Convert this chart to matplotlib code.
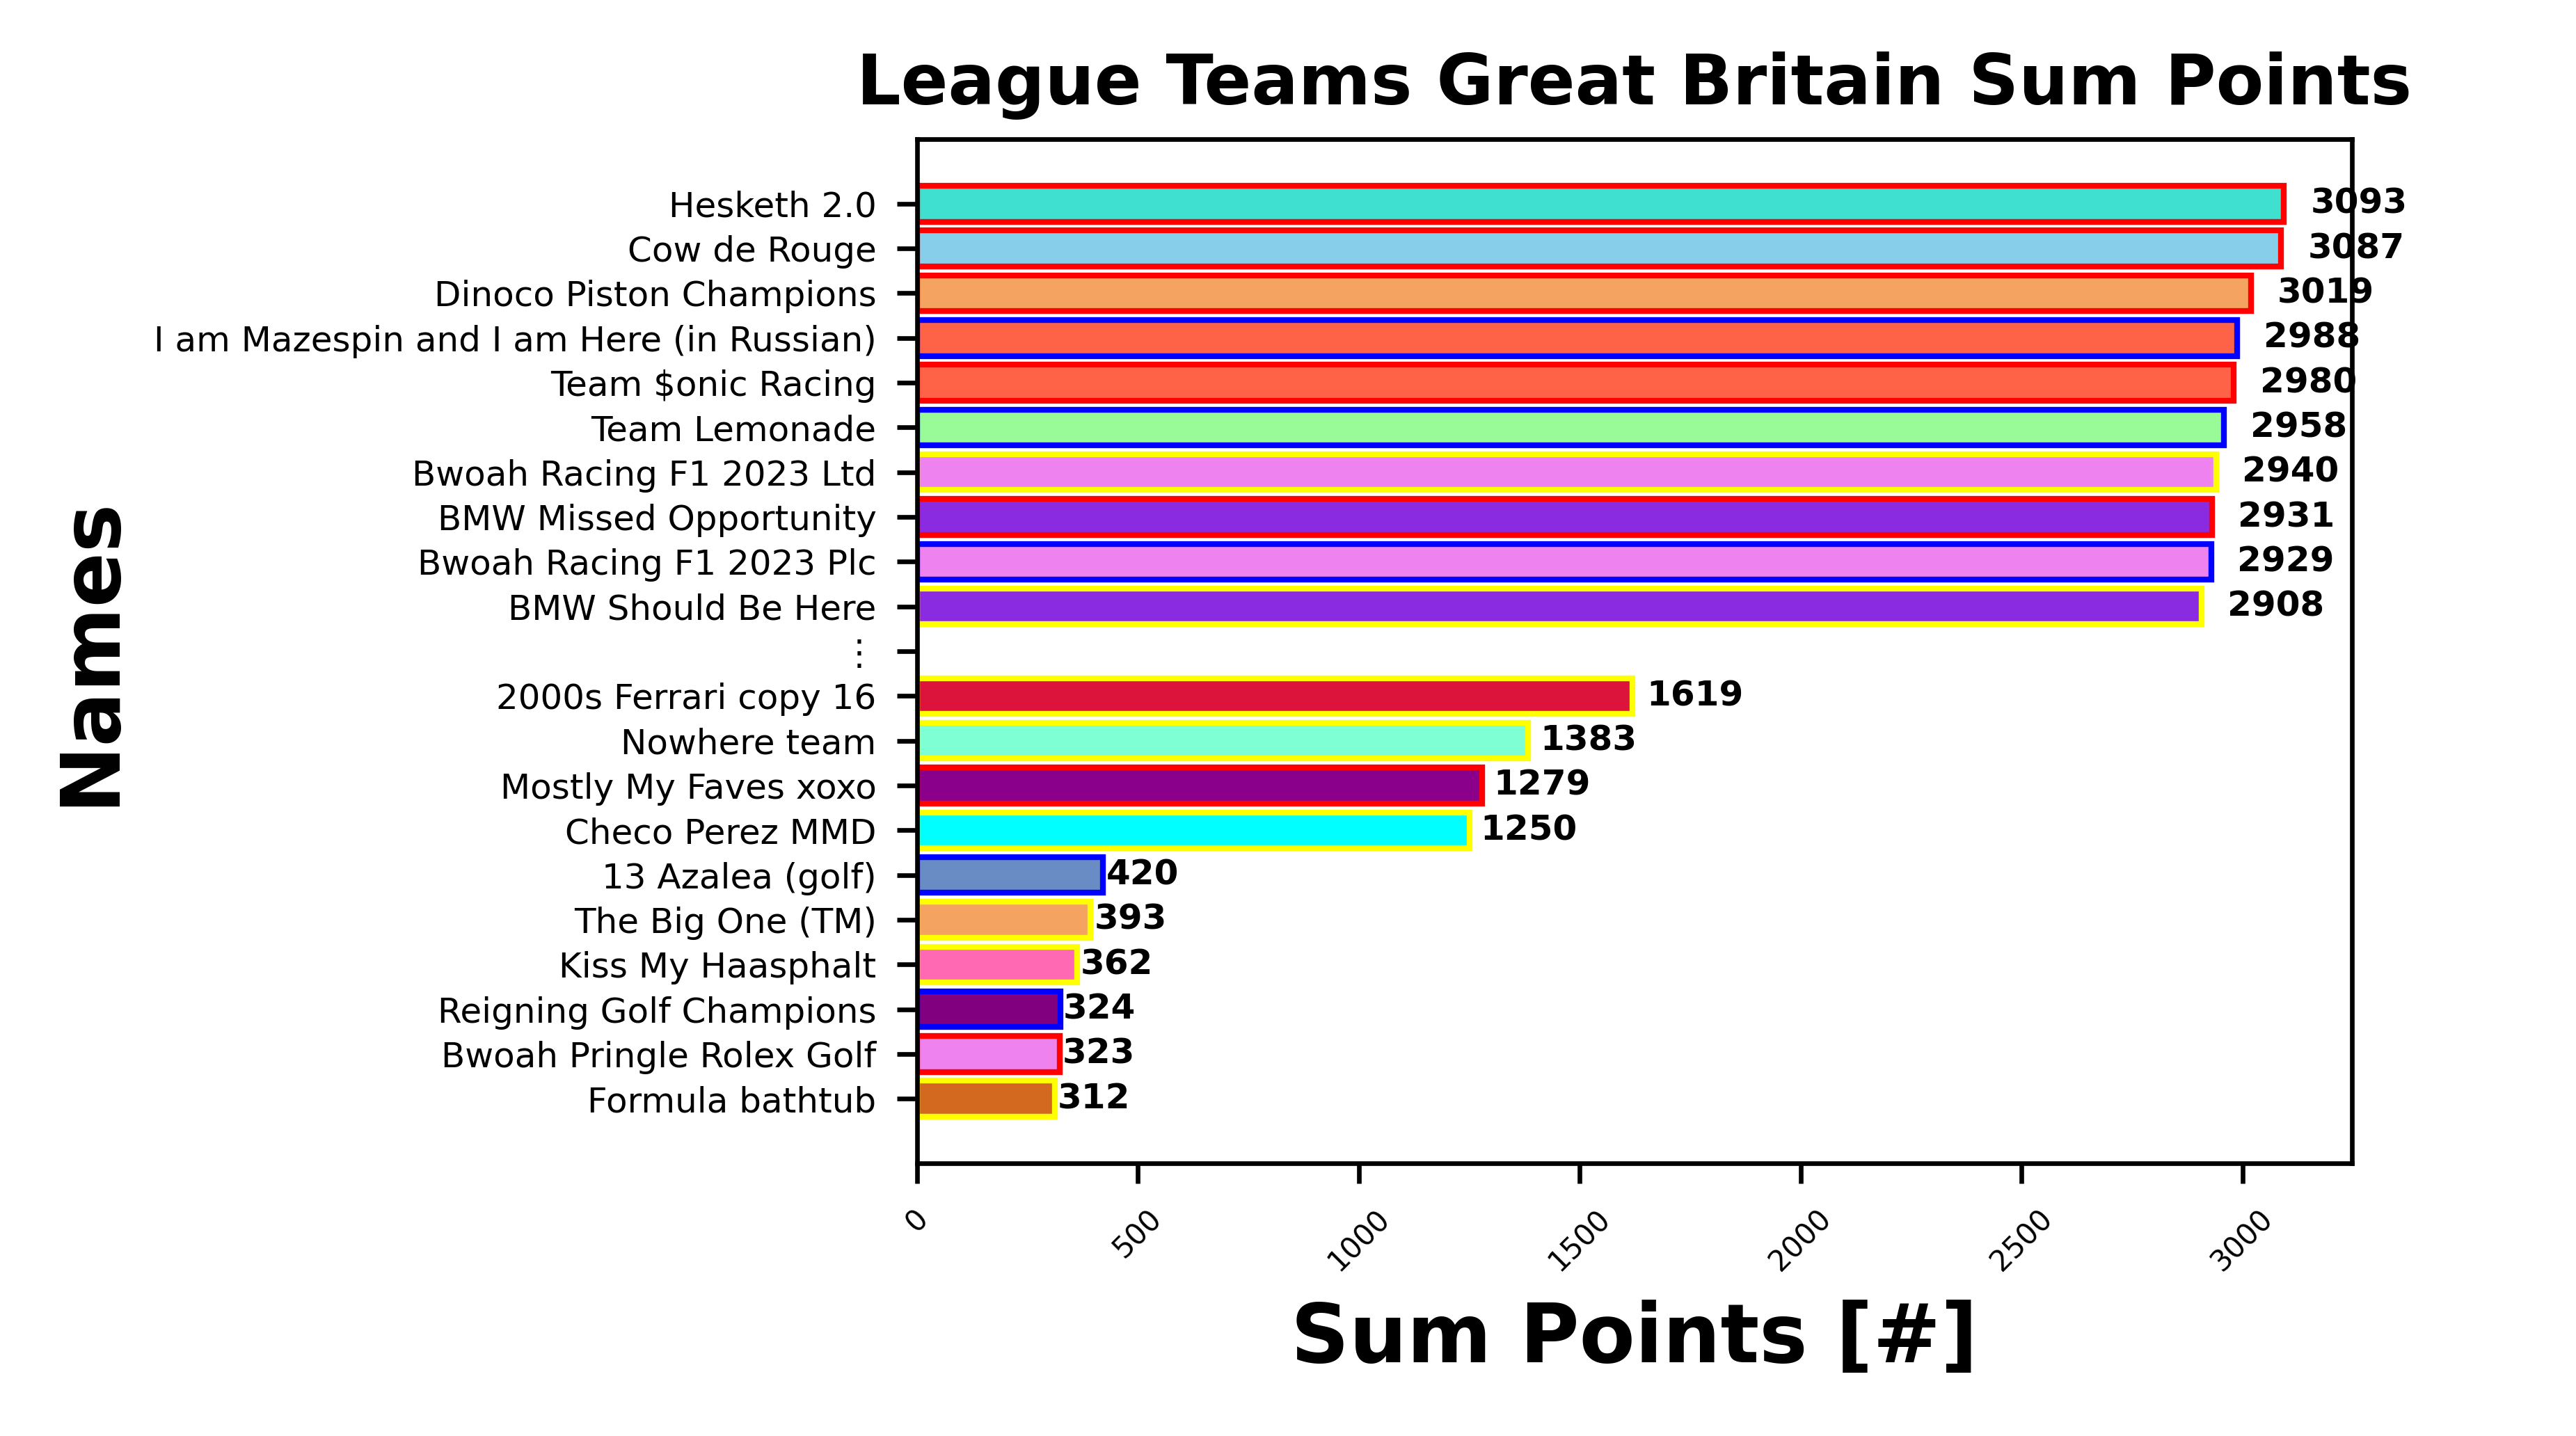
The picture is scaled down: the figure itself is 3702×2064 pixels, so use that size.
import matplotlib.pyplot as plt

names = ["Hesketh 2.0", "Cow de Rouge", "Dinoco Piston Champions",
         "I am Mazespin and I am Here (in Russian)", "Team $onic Racing", "Team Lemonade",
         "Bwoah Racing F1 2023 Ltd", "BMW Missed Opportunity", "Bwoah Racing F1 2023 Plc",
         "BMW Should Be Here", "\u22ee", "2000s Ferrari copy 16", "Nowhere team",
         "Mostly My Faves xoxo", "Checo Perez MMD", "13 Azalea (golf)", "The Big One (TM)",
         "Kiss My Haasphalt", "Reigning Golf Champions", "Bwoah Pringle Rolex Golf",
         "Formula bathtub"]
points = [3093, 3087, 3019, 2988, 2980, 2958, 2940, 2931, 2929, 2908, None,
          1619, 1383, 1279, 1250, 420, 393, 362, 324, 323, 312]
fills = ["turquoise", "skyblue", "sandybrown", "tomato", "tomato", "palegreen", "violet",
         "blueviolet", "violet", "blueviolet", "white", "crimson", "aquamarine", "darkmagenta",
         "cyan", "#6a8cc4", "sandybrown", "hotpink", "purple", "violet", "chocolate"]
edges = ["red", "red", "red", "blue", "red", "blue", "yellow", "red", "blue", "yellow", "white",
         "yellow", "yellow", "red", "yellow", "blue", "yellow", "yellow", "blue", "red", "yellow"]

fig = plt.figure(figsize=(6.17, 3.44), dpi=600)
ax = fig.add_axes([0.356, 0.19, 0.557, 0.713])
y = list(range(len(names)))
vals = [v if v is not None else 0 for v in points]
ax.barh(y, vals, color=fills, edgecolor=[e if v else "none" for e, v in zip(edges, points)],
        linewidth=1)
for yi, v in zip(y, points):
    if v is not None:
        ax.text(v * 1.02, yi, str(v), va="center", ha="left", fontsize=6, fontweight="bold")
ax.set_yticks(y)
ax.set_yticklabels(names, fontsize=6)
ax.invert_yaxis()
ax.set_xlim(0, max(vals) * 1.05)
ax.tick_params(axis="x", labelsize=5, rotation=45)
ax.set_xlabel("Sum Points [#]", fontsize=14, fontweight="bold")
ax.set_ylabel("Names", fontsize=14, fontweight="bold")
ax.set_title("League Teams Great Britain Sum Points", fontsize=12, fontweight="bold")
fig.savefig("out.png", dpi=600)
